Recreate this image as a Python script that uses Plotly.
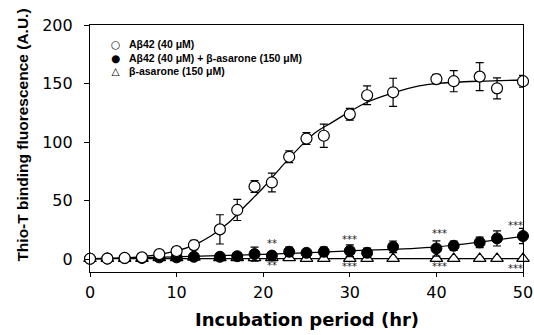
import plotly.graph_objects as go

# ---- data ----
time_h = [0, 2, 4, 6, 8, 10, 12, 15, 17, 19, 21, 23, 25, 27, 30, 32, 35, 40, 42, 45, 47, 50]

abeta = [0.3, 0.5, 1.0, 1.5, 4.3, 6.8, 12.0, 25.4, 42.0, 62.0, 65.5, 87.4, 103.0, 105.4,
         123.7, 140.0, 142.5, 153.8, 152.0, 155.9, 145.9, 152.0]
abeta_err = [1.0, 1.0, 1.0, 1.5, 2.0, 3.0, 4.0, 12.5, 9.0, 5.0, 8.0, 5.0, 5.0, 10.0,
             5.0, 8.0, 12.0, 4.0, 9.0, 12.0, 9.0, 5.0]

combo = [0.3, 0.5, 0.8, 1.0, 1.5, 1.5, 2.0, 2.0, 2.5, 4.3, 3.0, 6.3, 5.4, 6.3,
         7.1, 5.4, 10.5, 9.1, 11.4, 14.3, 17.7, 19.7]
combo_err = [1.0, 1.0, 1.0, 1.0, 1.5, 1.5, 2.0, 2.0, 3.0, 6.0, 3.0, 4.0, 3.0, 4.0,
             5.0, 4.0, 5.0, 6.5, 4.0, 4.5, 6.5, 6.5]

asarone = [0.3, 0.5, 0.5, 0.5, 1.0, 1.0, 1.5, 1.0, 1.0, 1.0, 1.0, 1.0, 0.5, 0.5,
           0.5, 0.5, 0.5, 0.5, 0.5, 0.5, 0.5, 0.5]
asarone_err = [0.8, 0.8, 0.8, 0.8, 1.5, 1.5, 2.5, 1.5, 1.5, 1.5, 1.5, 1.5, 1.0, 1.0,
               1.0, 1.0, 1.0, 1.0, 1.0, 1.0, 1.0, 1.0]

# fitted curves
fit_x = [0, 5, 8, 10, 12, 14, 16, 18, 20, 22, 24, 26, 28, 30, 32, 35, 38, 40, 45, 50]
fit_abeta = [0, 1.5, 4, 7, 12, 20, 31, 46, 61, 78, 94, 108, 117, 126, 134, 142, 148, 150, 152, 153]
fit2_x = [0, 10, 20, 30, 40, 50]
fit_combo = [0.5, 2, 4, 7, 10.5, 19.5]
fit_asarone = [0.5, 0.5, 0.5, 0.5, 0.5, 0.5]

star_x = [21, 21, 30, 30, 40.4, 40.4, 49.1, 49.1]
star_y = [13.7, -5.1, 16.8, -6.6, 22.0, -6.0, 29.0, -8.0]
star_text = ["**", "**", "***", "***", "***", "***", "***", "***"]

labels = ["Aβ42 (40 μM)", "Aβ42 (40 μM) + β-asarone (150 μM)", "β-asarone (150 μM)"]
legend_symbols = ["○", "●", "△"]

x_title = "Incubation period (hr)"
y_title = "Thio-T binding fluorescence (A.U.)"

fig = go.Figure()

line_style = dict(color="black", width=1.3)
fig.add_trace(go.Scatter(x=fit_x, y=fit_abeta, mode="lines", line=dict(shape="spline", **line_style),
                         showlegend=False, hoverinfo="skip", cliponaxis=False))
fig.add_trace(go.Scatter(x=fit2_x, y=fit_combo, mode="lines", line=dict(shape="spline", **line_style),
                         showlegend=False, hoverinfo="skip", cliponaxis=False))
fig.add_trace(go.Scatter(x=fit2_x, y=fit_asarone, mode="lines", line=line_style,
                         showlegend=False, hoverinfo="skip", cliponaxis=False))

err_style = dict(type="data", color="black", thickness=1.2, width=4)

fig.add_trace(go.Scatter(x=time_h, y=asarone, mode="markers", name=labels[2],
                         error_y=dict(array=asarone_err, **err_style),
                         marker=dict(symbol="triangle-up", size=11, color="white",
                                     line=dict(color="black", width=1.2)), cliponaxis=False))
fig.add_trace(go.Scatter(x=time_h, y=combo, mode="markers", name=labels[1],
                         error_y=dict(array=combo_err, **err_style),
                         marker=dict(symbol="circle", size=11, color="black",
                                     line=dict(color="black", width=1)), cliponaxis=False))
fig.add_trace(go.Scatter(x=time_h, y=abeta, mode="markers", name=labels[0],
                         error_y=dict(array=abeta_err, **err_style),
                         marker=dict(symbol="circle", size=11, color="white",
                                     line=dict(color="black", width=1.2)), cliponaxis=False))

for sx, sy, st in zip(star_x, star_y, star_text):
    fig.add_annotation(x=sx, y=sy, text=st, showarrow=False,
                       font=dict(family="DejaVu Sans", size=10, color="#222222"))

# legend drawn as text (tight row spacing as in the original)
fig.add_annotation(xref="paper", yref="paper", x=0.06, y=0.870, text="<br>".join(legend_symbols),
                   showarrow=False, xanchor="center", yanchor="middle", align="center", borderpad=0,
                   font=dict(family="DejaVu Sans", size=10.5, color="black"))
fig.add_annotation(xref="paper", yref="paper", x=0.0878, y=0.870,
                   text="<br>".join("<b>" + s + "</b>" for s in labels),
                   showarrow=False, xanchor="left", yanchor="middle", align="left", borderpad=0,
                   font=dict(family="Liberation Sans", size=10.5, color="black"))

# axis titles
fig.add_annotation(xref="paper", yref="paper", x=-0.156, y=0.554, text="<b>" + y_title + "</b>",
                   textangle=-90, showarrow=False, xanchor="center", yanchor="middle",
                   font=dict(family="Liberation Sans", size=15.5, color="black"))
fig.add_annotation(xref="paper", yref="paper", x=0.5, y=-0.192, text="<b>" + x_title + "</b>",
                   showarrow=False, xanchor="center", yanchor="middle",
                   font=dict(family="DejaVu Sans", size=18, color="black"))

fig.update_layout(
    width=534, height=335,
    margin=dict(l=90, r=11, t=25, b=63),
    plot_bgcolor="white", paper_bgcolor="white",
    font=dict(family="DejaVu Sans", color="black"),
    showlegend=False,
)
fig.update_xaxes(range=[0, 50], tickvals=[0, 10, 20, 30, 40, 50], automargin=False,
                 showline=True, linecolor="black", linewidth=1.2, mirror=True,
                 ticks="outside", ticklen=4, tickcolor="black", showgrid=False, zeroline=False,
                 tickfont=dict(size=16, family="DejaVu Sans"), ticklabelstandoff=2)
fig.update_yaxes(range=[-11, 200], tickvals=[0, 50, 100, 150, 200], automargin=False,
                 showline=True, linecolor="black", linewidth=1.2, mirror=True,
                 ticks="outside", ticklen=5, tickcolor="black", showgrid=False, zeroline=False,
                 tickfont=dict(size=16, family="DejaVu Sans"), ticklabelstandoff=8)

# remove the page's default 8 px body margin so the figure fills the window exactly
fig.write_html("out.html", config={"displayModeBar": False},
               post_script="document.body.style.margin='0';document.body.style.overflow='hidden';")
